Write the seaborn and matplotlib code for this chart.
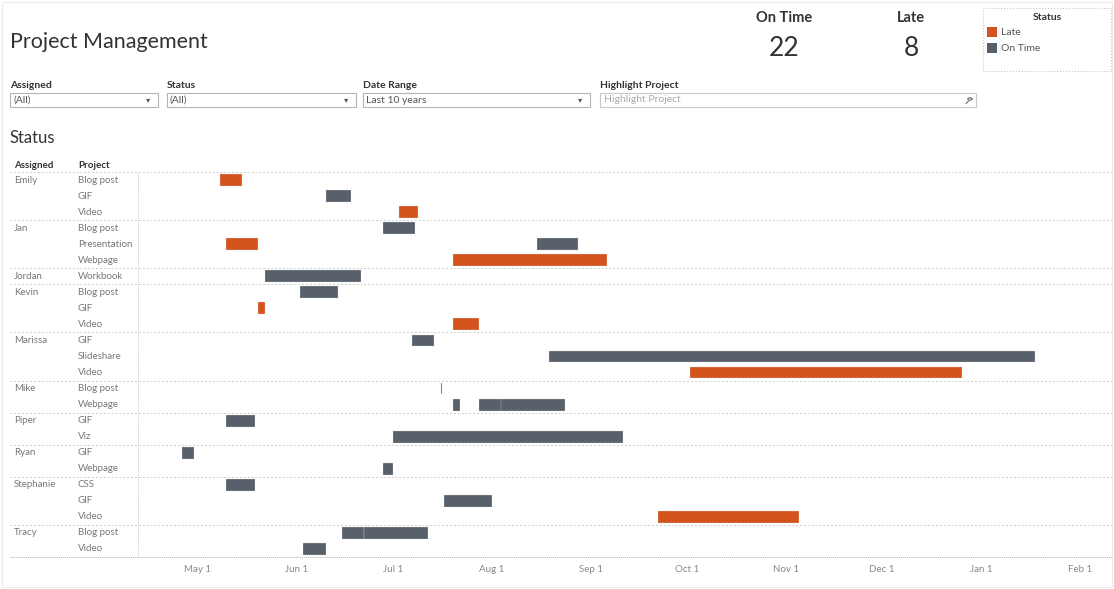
import pandas as pd
import numpy as np
import matplotlib
matplotlib.use('Agg')
import matplotlib.pyplot as plt
import matplotlib.dates as mdates
import matplotlib.transforms as mtransforms
from matplotlib.patches import Rectangle, Circle
import seaborn as sns

# %% dados
row_assigned = ['Emily', 'Emily', 'Emily', 'Jan', 'Jan', 'Jan', 'Jordan', 'Kevin', 'Kevin', 'Kevin',
                'Marissa', 'Marissa', 'Marissa', 'Mike', 'Mike', 'Piper', 'Piper', 'Ryan', 'Ryan',
                'Stephanie', 'Stephanie', 'Stephanie', 'Tracy', 'Tracy']
row_project = ['Blog post', 'GIF', 'Video', 'Blog post', 'Presentation', 'Webpage', 'Workbook',
               'Blog post', 'GIF', 'Video', 'GIF', 'Slideshare', 'Video', 'Blog post', 'Webpage',
               'GIF', 'Viz', 'GIF', 'Webpage', 'CSS', 'GIF', 'Video', 'Blog post', 'Video']

task_assigned = ['Emily', 'Emily', 'Emily', 'Jan', 'Jan', 'Jan', 'Jan', 'Jordan', 'Kevin', 'Kevin',
                 'Kevin', 'Marissa', 'Marissa', 'Marissa', 'Mike', 'Mike', 'Mike', 'Mike', 'Piper',
                 'Piper', 'Ryan', 'Ryan', 'Stephanie', 'Stephanie', 'Stephanie', 'Tracy', 'Tracy', 'Tracy']
task_project = ['Blog post', 'GIF', 'Video', 'Blog post', 'Presentation', 'Presentation', 'Webpage',
                'Workbook', 'Blog post', 'GIF', 'Video', 'GIF', 'Slideshare', 'Video', 'Blog post',
                'Webpage', 'Webpage', 'Webpage', 'GIF', 'Viz', 'GIF', 'Webpage', 'CSS', 'GIF', 'Video',
                'Blog post', 'Blog post', 'Video']
task_start = ['2017-05-08', '2017-06-10', '2017-07-03', '2017-06-28', '2017-05-10', '2017-08-15',
              '2017-07-20', '2017-05-22', '2017-06-02', '2017-05-20', '2017-07-20', '2017-07-07',
              '2017-08-19', '2017-10-02', '2017-07-16', '2017-07-20', '2017-07-28', '2017-08-04',
              '2017-05-10', '2017-07-01', '2017-04-26', '2017-06-28', '2017-05-10', '2017-07-17',
              '2017-09-22', '2017-06-15', '2017-06-22', '2017-06-03']
task_end = ['2017-05-15', '2017-06-18', '2017-07-09', '2017-07-08', '2017-05-20', '2017-08-28',
            '2017-09-06', '2017-06-21', '2017-06-14', '2017-05-22', '2017-07-28', '2017-07-14',
            '2018-01-18', '2017-12-26', '2017-07-16', '2017-07-22', '2017-08-08', '2017-08-24',
            '2017-05-19', '2017-09-11', '2017-04-30', '2017-07-01', '2017-05-19', '2017-08-01',
            '2017-11-05', '2017-06-22', '2017-07-12', '2017-06-10']
task_status = ['Late', 'On Time', 'Late', 'On Time', 'Late', 'On Time', 'Late', 'On Time', 'On Time',
               'Late', 'Late', 'On Time', 'On Time', 'Late', 'On Time', 'On Time', 'On Time', 'On Time',
               'On Time', 'On Time', 'On Time', 'On Time', 'On Time', 'On Time', 'Late', 'On Time',
               'On Time', 'On Time']

kpi_labels = ['On Time', 'Late']
kpi_values = [22, 8]

cores = {'Late': '#d2541c', 'On Time': '#57606b'}

# %% dataframe
df = pd.DataFrame({'assigned': task_assigned, 'project': task_project,
                   'start': pd.to_datetime(task_start), 'end': pd.to_datetime(task_end),
                   'status': task_status})
linhas = pd.DataFrame({'assigned': row_assigned, 'project': row_project})
linhas['row'] = range(len(linhas))
df = df.merge(linhas, on=['assigned', 'project'], how='left')
df['dur'] = (df['end'] - df['start']).dt.days.clip(lower=0.35)

# %% figura
sns.set_theme(style='white')
plt.rcParams['font.family'] = ['Lato', 'DejaVu Sans']

W, H = 1114, 589
fig = plt.figure(figsize=(W / 100, H / 100), dpi=100)

def fx(px):
    return px / W

def fy(py):
    return 1 - py / H

# moldura leve
fig.add_artist(Rectangle((fx(2), fy(587)), fx(1110), 585 / H, transform=fig.transFigure,
                         fill=False, edgecolor='#ececec', lw=0.8))

fig.text(fx(10), fy(41.5), 'Project Management', fontsize=15.5, color='#333333', va='center')

# filtros
filtros = [('Assigned', '(All)', 10, 158), ('Status', '(All)', 167, 356),
           ('Date Range', 'Last 10 years', 363, 590)]
for rotulo, valor, x0, x1 in filtros:
    fig.text(fx(x0), fy(85.5), rotulo, fontsize=7.5, color='#333333', va='center', fontweight='bold')
    fig.add_artist(Rectangle((fx(x0), fy(107)), fx(x1 - x0), 14 / H, transform=fig.transFigure,
                             fill=False, edgecolor='#b5b5b5', lw=0.8))
    fig.text(fx(x0 + 3), fy(100.5), valor, fontsize=7.5, color='#555555', va='center')
    fig.text(fx(x1 - 10), fy(100), '▾', fontsize=6, color='#555555', va='center', ha='center')

fig.text(fx(600), fy(85.5), 'Highlight Project', fontsize=7.5, color='#333333', va='center',
         fontweight='bold')
fig.add_artist(Rectangle((fx(600), fy(107)), fx(376), 14 / H, transform=fig.transFigure,
                         fill=False, edgecolor='#c8c8c8', lw=0.8))
fig.text(fx(604), fy(100), 'Highlight Project', fontsize=7.5, color='#aaaaaa', va='center')
fig.add_artist(Circle((fx(970), fy(99)), 2.2 / W, transform=fig.transFigure, fill=False,
                      edgecolor='#666666', lw=0.8))
fig.add_artist(plt.Line2D([fx(966), fx(968.5)], [fy(103.5), fy(101)], transform=fig.transFigure,
                          color='#666666', lw=0.8))

# KPIs
for rotulo, valor, xc in zip(kpi_labels, kpi_values, [784, 911]):
    fig.text(fx(xc), fy(18.5), rotulo, fontsize=10.5, color='#333333', ha='center', va='center',
             fontweight='bold')
    fig.text(fx(xc), fy(49), str(valor), fontsize=19, color='#333333', ha='center', va='center')

# legenda
fig.add_artist(Rectangle((fx(983), fy(71)), fx(128), 63 / H, transform=fig.transFigure,
                         fill=False, edgecolor='#c8c8c8', lw=0.8, ls=':'))
fig.text(fx(1047), fy(17.5), 'Status', fontsize=7.5, color='#333333', ha='center', va='center',
         fontweight='bold')
for i, st in enumerate(['Late', 'On Time']):
    yy = 32 + 16 * i
    fig.add_artist(Rectangle((fx(987), fy(yy + 5)), fx(10), 10 / H, transform=fig.transFigure,
                             color=cores[st], lw=0))
    fig.text(fx(1001), fy(yy + 0.5), st, fontsize=7.5, color='#555555', va='center')

fig.text(fx(10), fy(138.5), 'Status', fontsize=12, color='#333333', va='center')
fig.text(fx(14), fy(165.5), 'Assigned', fontsize=7, color='#333333', va='center', fontweight='bold')
fig.text(fx(78), fy(165.5), 'Project', fontsize=7, color='#333333', va='center', fontweight='bold')

# %% gantt
ax = fig.add_axes([fx(138), fy(557), fx(1112 - 138), (557 - 172) / H])
for st in ['On Time', 'Late']:
    sub = df[df['status'] == st]
    ax.barh(sub['row'], sub['dur'], left=mdates.date2num(sub['start']), height=0.74,
            color=cores[st], edgecolor='#e6e6e6', linewidth=0.2)

n = len(linhas)
ax.set_ylim(n - 0.5, -0.5)
ax.set_xlim(mdates.date2num(pd.Timestamp('2017-04-12 08:00')),
            mdates.date2num(pd.Timestamp('2018-02-11')))
ax.xaxis.set_major_locator(mdates.MonthLocator())
ax.xaxis.set_major_formatter(mdates.DateFormatter('%b 1'))
ax.tick_params(axis='x', length=0, labelsize=7, labelcolor='#888888', pad=6)
ax.set_yticks([])
sns.despine(ax=ax, left=True, bottom=True)

# rotulos das linhas
trans = mtransforms.blended_transform_factory(fig.transFigure, ax.transData)
anterior = None
for i, (a, p) in enumerate(zip(row_assigned, row_project)):
    if a != anterior:
        ax.text(fx(14), i, a, transform=trans, fontsize=7, color='#777777', va='center')
    ax.text(fx(78), i, p, transform=trans, fontsize=7, color='#777777', va='center')
    anterior = a

# separadores dos grupos
x_ini = (10 - 138) / (1112 - 138)
fronteiras = [-0.5] + [i + 0.5 for i in range(n - 1) if row_assigned[i] != row_assigned[i + 1]]
ax.hlines(fronteiras, x_ini, 1, transform=ax.get_yaxis_transform(), clip_on=False,
          colors='#cfcfcf', linestyles=(0, (2, 2)), lw=0.7)
ax.hlines([n - 0.5], x_ini, 1, transform=ax.get_yaxis_transform(), clip_on=False,
          colors='#b0b0b0', linestyles=(0, (1, 1)), lw=0.7)
ax.vlines([0], 0, 1, transform=ax.transAxes, colors='#c8c8c8', linestyles=(0, (1, 1)), lw=0.7)

fig.savefig('out.png', dpi=100)
